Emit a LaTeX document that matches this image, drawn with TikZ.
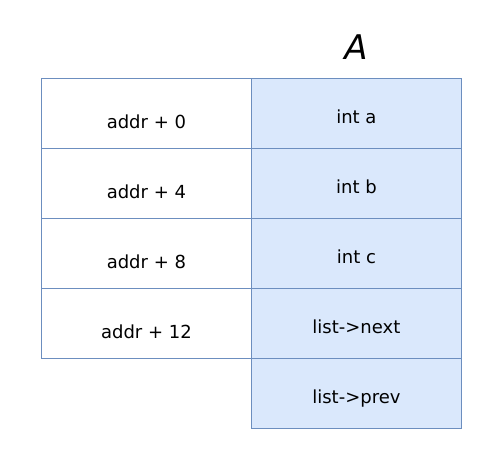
\documentclass[tikz,border=0pt]{standalone}
\usepackage{fontspec}
\setmainfont{DejaVu Sans}
\definecolor{cellfill}{HTML}{DAE8FC}
\definecolor{cellline}{HTML}{6C8EBF}
\begin{document}
\begin{tikzpicture}[x=1pt,y=-1pt,
  cell/.style={draw=cellline,line width=1.8pt,minimum width=210pt,minimum height=70pt,inner sep=0pt,anchor=north west},
  leftcell/.style={cell,fill=white},
  rightcell/.style={cell,fill=cellfill},
  lbl/.style={font=\fontsize{18}{20}\selectfont,anchor=base,inner sep=0pt}]
\useasboundingbox (0,0) rectangle (484,451);
\foreach \i/\t in {0/addr + 0,1/addr + 4,2/addr + 8,3/addr + 12}{
  \node[leftcell] (L\i) at (40.5,77.5+70*\i) {};
  \node[lbl] (LT\i) at ([yshift=-51pt]L\i.north) {\t};
}
\foreach \i/\t in {0/int a,1/int b,2/int c,3/list->next,4/list->prev}{
  \node[rightcell] (R\i) at (250.5,77.5+70*\i) {};
  \node[lbl] (RT\i) at ([yshift=-46pt]R\i.north) {\t};
}
\node[font=\itshape\fontsize{34}{36}\selectfont,anchor=base,inner sep=0pt] (A) at (356,59) {A};
\end{tikzpicture}
\end{document}
